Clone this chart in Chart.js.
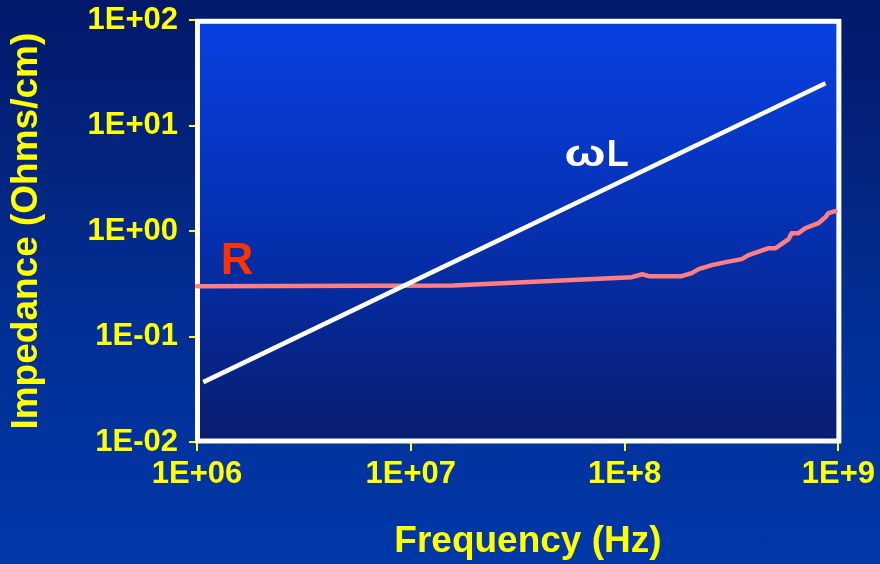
<!DOCTYPE html>
<html>
<head>
<meta charset="utf-8">
<title>Impedance vs Frequency</title>
<script src="https://cdn.jsdelivr.net/npm/chart.js@4/dist/chart.umd.min.js"></script>
<style>
  html, body {
    margin: 0;
    padding: 0;
    width: 880px;
    height: 564px;
    overflow: hidden;
    background: linear-gradient(to bottom, #02196a 0%, #03237c 25%, #022e94 55%, #0038a8 100%);
  }
  #wrap { width: 880px; height: 564px; position: relative; }
</style>
</head>
<body>
<div id="wrap"><canvas id="chart" width="880" height="564"></canvas></div>
<script>
// Frequency axis decades and their labels
const xTickValues = [1e6, 1e7, 1e8, 1e9];
const xTickLabels = ['1E+06', '1E+07', '1E+8', '1E+9'];

// Impedance axis decades and their labels
const yTickValues = [0.01, 0.1, 1, 10, 100];
const yTickLabels = ['1E-02', '1E-01', '1E+00', '1E+01', '1E+02'];

// Inductive reactance ωL (Ohms/cm)
const inductFreq = [1.07e6, 8.71e8];
const inductZ    = [0.037, 25.3];

// Resistance R (Ohms/cm)
const resFreq = [1e6, 1.57e7, 1.08e8, 1.21e8, 1.30e8, 1.85e8, 2.06e8, 2.22e8, 2.56e8, 2.97e8,
                 3.53e8, 3.80e8, 4.72e8, 5.09e8, 5.85e8, 6.04e8, 6.51e8, 7.02e8, 8.07e8,
                 8.71e8, 8.99e8, 9.69e8];
const resZ    = [0.30, 0.305, 0.366, 0.39, 0.374, 0.374, 0.40, 0.436, 0.476, 0.508,
                 0.543, 0.593, 0.69, 0.69, 0.839, 0.957, 0.957, 1.07, 1.19,
                 1.36, 1.48, 1.55];

// Curve name labels, anchored in data space (each part may be stretched horizontally)
const curveLabels = [
  { parts: [['ω', 1.35], ['L', 1]], freq: 7.36e7, z: 4.13, color: '#ffffff', size: 36, align: 'center' },
  { parts: [['R', 1]],              freq: 1.29e6, z: 0.39, color: '#ff3300', size: 45, align: 'left' }
];

const YELLOW = '#ffff00';
const FONT = '"Liberation Sans", Arial, Helvetica, sans-serif';

const toPoints = (xs, ys) => xs.map((x, i) => ({ x: x, y: ys[i] }));

// Plot-area fill, white frame and curve labels
const framePlugin = {
  id: 'frame',
  beforeDraw(chart) {
    const { ctx, chartArea: a } = chart;
    const g = ctx.createLinearGradient(0, a.top, 0, a.bottom);
    g.addColorStop(0, '#0840e2');
    g.addColorStop(0.5, '#0530b0');
    g.addColorStop(1, '#081d6e');
    ctx.save();
    ctx.fillStyle = g;
    ctx.fillRect(a.left, a.top, a.right - a.left, a.bottom - a.top);
    ctx.restore();
  },
  beforeDatasetsDraw(chart) {
    const { ctx, chartArea: a } = chart;
    ctx.save();
    ctx.strokeStyle = '#ffffff';
    ctx.lineWidth = 5;
    ctx.strokeRect(a.left + 0.5, a.top + 1, a.right - a.left, a.bottom - a.top - 2);
    ctx.restore();
  },
  afterDatasetsDraw(chart) {
    const { ctx, scales } = chart;
    ctx.save();
    curveLabels.forEach(l => {
      ctx.font = 'bold ' + l.size + 'px ' + FONT;
      ctx.fillStyle = l.color;
      ctx.textAlign = 'left';
      ctx.textBaseline = 'alphabetic';
      const widths = l.parts.map(([t, sx]) => ctx.measureText(t).width * sx);
      const total = widths.reduce((s, w) => s + w, 0);
      let x = scales.x.getPixelForValue(l.freq);
      if (l.align === 'center') x -= total / 2;
      const y = scales.y.getPixelForValue(l.z);
      l.parts.forEach(([t, sx], i) => {
        ctx.save();
        ctx.translate(x, y);
        ctx.scale(sx, 1);
        ctx.fillText(t, 0, 0);
        ctx.restore();
        x += widths[i] + 1;
      });
    });
    ctx.restore();
  }
};

new Chart(document.getElementById('chart'), {
  type: 'line',
  data: {
    datasets: [
      {
        label: 'ωL',
        data: toPoints(inductFreq, inductZ),
        borderColor: '#ffffff',
        borderWidth: 4.5,
        pointRadius: 0,
        tension: 0,
        borderCapStyle: 'butt'
      },
      {
        label: 'R',
        data: toPoints(resFreq, resZ),
        borderColor: '#ff7f80',
        borderWidth: 4.5,
        pointRadius: 0,
        tension: 0,
        borderCapStyle: 'round',
        borderJoinStyle: 'round',
        clip: false
      }
    ]
  },
  options: {
    responsive: false,
    animation: false,
    events: [],
    layout: { padding: { left: 0, top: 0, right: 40, bottom: 0 } },
    plugins: {
      legend: { display: false },
      tooltip: { enabled: false }
    },
    scales: {
      x: {
        type: 'logarithmic',
        min: 1e6,
        max: 1e9,
        afterBuildTicks: s => { s.ticks = xTickValues.map(v => ({ value: v })); },
        afterFit: s => { s.height = 122; },
        border: { display: false },
        grid: {
          drawOnChartArea: false,
          drawTicks: true,
          tickLength: 9,
          color: YELLOW,
          lineWidth: 2
        },
        ticks: {
          color: YELLOW,
          padding: 5,
          maxRotation: 0,
          autoSkip: false,
          font: { family: FONT, size: 31, weight: 'bold', lineHeight: 1.2 },
          callback: (v, i) => xTickLabels[i]
        },
        title: {
          display: true,
          text: '\u00a0\u00a0Frequency (Hz)',
          color: YELLOW,
          padding: { top: 0, bottom: 0 },
          font: { family: FONT, size: 37, weight: 'bold', lineHeight: 1.2 }
        }
      },
      y: {
        type: 'logarithmic',
        min: 0.01,
        max: 100,
        afterBuildTicks: s => { s.ticks = yTickValues.map(v => ({ value: v })); },
        afterFit: s => { s.width = 197; },
        border: { display: false },
        grid: {
          drawOnChartArea: false,
          drawTicks: true,
          tickLength: 8,
          color: YELLOW,
          lineWidth: 2
        },
        ticks: {
          color: YELLOW,
          padding: 11,
          autoSkip: false,
          font: { family: FONT, size: 31, weight: 'bold', lineHeight: 0.6 },
          callback: (v, i) => yTickLabels[i]
        },
        title: {
          display: true,
          text: 'Impedance (Ohms/cm)',
          color: YELLOW,
          padding: { top: 5, bottom: 0 },
          font: { family: FONT, size: 37, weight: 'bold', lineHeight: 1.2 }
        }
      }
    }
  },
  plugins: [framePlugin]
});
</script>
</body>
</html>
